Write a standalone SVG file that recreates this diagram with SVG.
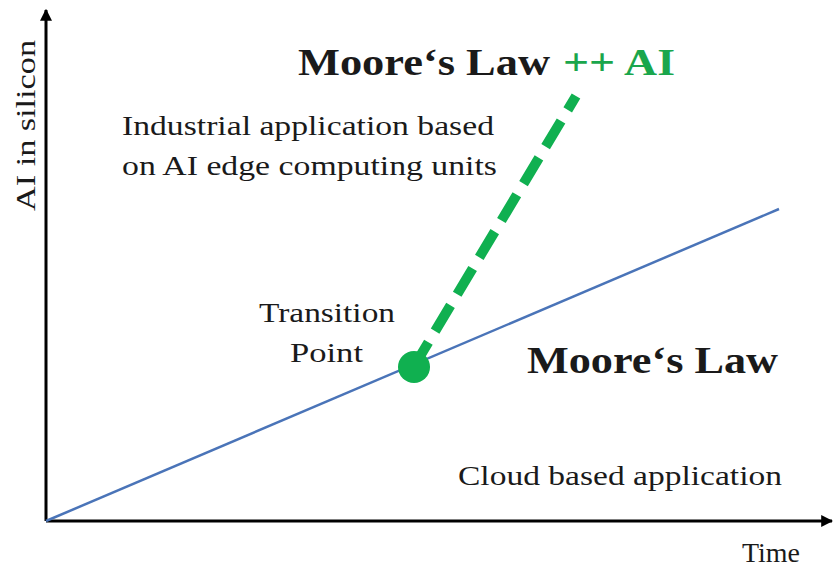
<svg xmlns="http://www.w3.org/2000/svg" width="834" height="571" viewBox="0 0 834 571">
<style>
text{font-family:"Liberation Serif","Times New Roman",serif;fill:#1a1a1a}
.t{font-size:27px}
.b{font-size:37px;font-weight:bold}
.axis{stroke:#000;stroke-width:3;fill:none}
</style>
<defs>
<marker id="ah" viewBox="0 0 10 10" refX="9" refY="5" markerWidth="4" markerHeight="4" orient="auto" markerUnits="strokeWidth">
<path d="M0,0 L10,5 L0,10 z" fill="#000"/>
</marker>
</defs>
<rect width="834" height="571" fill="#fff"/>
<g id="axes">
<line class="axis" x1="46" y1="521" x2="46" y2="10" marker-end="url(#ah)"/>
<line class="axis" x1="46" y1="521" x2="832" y2="521" marker-end="url(#ah)"/>
<text class="t" transform="translate(35,211) rotate(-90)" textLength="171" lengthAdjust="spacingAndGlyphs">AI in silicon</text>
<text class="t" x="742" y="562" textLength="58" lengthAdjust="spacingAndGlyphs">Time</text>
</g>
<g id="connectors">
<line x1="46" y1="521" x2="779" y2="209" stroke="#4a74b8" stroke-width="2.5"/>
<line x1="413" y1="368" x2="576" y2="96" stroke="#10b050" stroke-width="10" stroke-dasharray="30,13"/>
</g>
<g id="transition-point">
<circle cx="414" cy="367" r="16" fill="#10b050"/>
<text class="t" x="259" y="322" textLength="136" lengthAdjust="spacingAndGlyphs">Transition</text>
<text class="t" x="290" y="362" textLength="73" lengthAdjust="spacingAndGlyphs">Point</text>
</g>
<g id="title-ai">
<text class="b" x="298" y="75" textLength="252" lengthAdjust="spacingAndGlyphs">Moore‘s Law</text>
<text class="b" x="563" y="75" textLength="112" lengthAdjust="spacingAndGlyphs" style="fill:#1aa64c">++ AI</text>
</g>
<g id="industrial">
<text class="t" x="122" y="135" textLength="372" lengthAdjust="spacingAndGlyphs">Industrial application based</text>
<text class="t" x="122" y="175" textLength="375" lengthAdjust="spacingAndGlyphs">on AI  edge computing units</text>
</g>
<g id="moores-law">
<text class="b" x="527" y="373" textLength="251" lengthAdjust="spacingAndGlyphs">Moore‘s Law</text>
</g>
<g id="cloud">
<text class="t" x="458" y="485" textLength="324" lengthAdjust="spacingAndGlyphs">Cloud based application</text>
</g>
</svg>
